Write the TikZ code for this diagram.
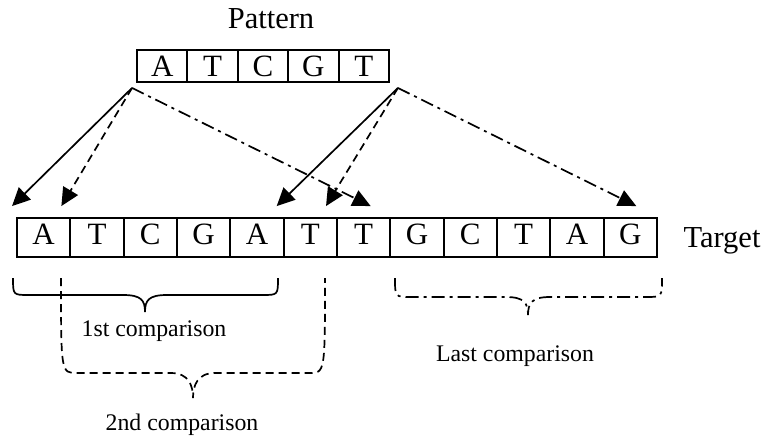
\documentclass[tikz,border=0pt]{standalone}
\usepackage{fontspec}
\setmainfont{Liberation Serif}
\usetikzlibrary{arrows.meta}

% Curly brace drawn as one path: ends (L,T) and (R,T), bar at H, tip (M,P)
\newcommand\combrace[7]{%
  \draw[bracestyle,#7] (#1,#3) .. controls (#1,#4) and (#1,#4) .. ({#1+16},#4)
    -- ({#5-22},#4) .. controls ({#5-4},#4) and (#5,{#6-12}) .. (#5,#6)
    .. controls (#5,{#6-12}) and ({#5+4},#4) .. ({#5+22},#4)
    -- ({#2-16},#4) .. controls (#2,#4) and (#2,#4) .. (#2,#3);}

\begin{document}
\begin{tikzpicture}[x=1pt,y=-1pt,
  cell/.style={draw,line width=1.9pt,minimum width=53.33pt,minimum height=39pt,
    inner sep=0pt,text height=14pt,text depth=0pt,font=\fontsize{31}{31}\selectfont},
  pcell/.style={cell,minimum width=50.4pt,minimum height=32pt,text height=20pt},
  bigtext/.style={font=\fontsize{30.5}{30}\selectfont,anchor=base,inner sep=0pt},
  smalltext/.style={font=\fontsize{23.8}{24}\selectfont,anchor=base,inner sep=0pt},
  link/.style={line width=1.7pt,-{Triangle[length=18pt,width=17pt]}},
  dashline/.style={dash pattern=on 8pt off 5pt},
  dotdashline/.style={dash pattern=on 13pt off 5pt on 3pt off 5pt},
  bracestyle/.style={line width=1.7pt}]
\useasboundingbox (0,0) rectangle (770,440);

% pattern row
\foreach \c [count=\i] in {A,T,C,G,T}
  \node[pcell] (p\i) at ({137+50.4*(\i-0.5)},66) {\c};
\node[bigtext] (ptitle) at (271,28) {Pattern};

% target row
\foreach \c [count=\i] in {A,T,C,G,A,T,T,G,C,T,A,G}
  \node[cell] (t\i) at ({17+53.33*(\i-0.5)},237.5) {\c};
\node[bigtext] (ttitle) at (722,247) {Target};

% alignment arrows
\coordinate (pl) at ([xshift=-4pt,yshift=-5pt]p1.south west);
\coordinate (pr) at ([xshift=8pt,yshift=-5pt]p5.south east);
\coordinate (e1) at ([xshift=-4pt,yshift=11pt]t1.north west);
\coordinate (e2) at ([xshift=-8pt,yshift=11pt]t2.north west);
\coordinate (e3) at ([xshift=7pt,yshift=11pt]t7.north);
\coordinate (e4) at ([xshift=-6pt,yshift=11pt]t6.north west);
\coordinate (e5) at ([xshift=-10pt,yshift=11pt]t7.north west);
\coordinate (e6) at ([xshift=6pt,yshift=11pt]t12.north);

\draw[link] (pl) -- (e1);
\draw[link,dashline] (pl) -- (e2);
\draw[link,dotdashline] (pl) -- (e3);
\draw[link] (pr) -- (e4);
\draw[link,dashline] (pr) -- (e5);
\draw[link,dotdashline] (pr) -- (e6);

% comparison windows
\combrace{13}{278}{278}{295}{145}{312}{}
\combrace{61}{325}{278}{373}{193}{398}{dashline}
\combrace{395}{662}{278}{297}{528}{315}{dotdashline}

\node[smalltext] (c1) at (154,336) {1st comparison};
\node[smalltext] (c2) at (182,430) {2nd comparison};
\node[smalltext] (c3) at (515,361) {Last comparison};
\end{tikzpicture}
\end{document}
